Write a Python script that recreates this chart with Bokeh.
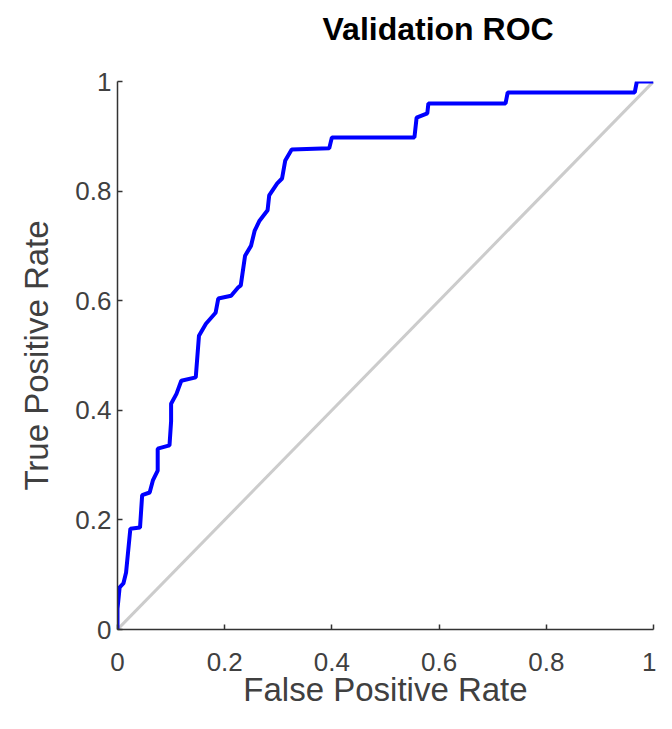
from bokeh.plotting import figure
from bokeh.models import Range1d, FixedTicker, Title
from bokeh.embed import file_html
from bokeh.resources import INLINE

# ROC curve vertices (False Positive Rate, True Positive Rate)
fpr = [0.0, 0.0, 0.004, 0.011, 0.016, 0.024, 0.042, 0.046, 0.060, 0.066, 0.075, 0.075,
       0.097, 0.100, 0.100, 0.110, 0.119, 0.146, 0.152, 0.165, 0.183, 0.188, 0.212,
       0.225, 0.230, 0.238, 0.249, 0.256, 0.265, 0.280, 0.283, 0.298, 0.307, 0.313,
       0.325, 0.395, 0.400, 0.554, 0.558, 0.578, 0.580, 0.724, 0.728, 0.965, 0.969, 1.0]
tpr = [0.0, 0.038, 0.077, 0.084, 0.104, 0.184, 0.186, 0.245, 0.250, 0.272, 0.290, 0.330,
       0.336, 0.380, 0.412, 0.430, 0.454, 0.460, 0.536, 0.558, 0.578, 0.604, 0.609,
       0.624, 0.628, 0.682, 0.700, 0.728, 0.746, 0.765, 0.792, 0.814, 0.823, 0.856,
       0.876, 0.878, 0.898, 0.898, 0.934, 0.942, 0.960, 0.960, 0.980, 0.980, 1.0, 1.0]

# chance line
diag_x = [0.0, 1.0]
diag_y = [0.0, 1.0]

ticks = [0, 0.2, 0.4, 0.6, 0.8, 1]
tick_labels = ["0", "0.2", "0.4", "0.6", "0.8", "1"]

title_text = "Validation ROC"
x_label = "False Positive Rate"
y_label = "True Positive Rate"

FONT = "Liberation Sans"
AX = "#333333"
TXT = "#404040"

p = figure(width=656, height=713, output_backend="svg", toolbar_location=None,
           x_range=Range1d(0, 1), y_range=Range1d(0, 1),
           min_border_left=117, min_border_right=3, min_border_top=81,
           min_border_bottom=84, title=title_text)
p.frame_width = 536
p.frame_height = 548

p.title.text_font = FONT
p.title.text_font_size = "32px"
p.title.text_font_style = "bold"
p.title.text_color = "#000000"
p.title.align = "left"
p.title.offset = 205
p.title.standoff = 0

# thin spacer panel between the title and the plot frame
spacer = Title(text=" ", text_font_size="1px", standoff=32)
p.add_layout(spacer, "above")

p.outline_line_color = None
p.xgrid.visible = False
p.ygrid.visible = False
p.background_fill_color = "white"
p.border_fill_color = "white"

p.line(diag_x, diag_y, line_color="#cccccc", line_width=3)
p.line(fpr, tpr, line_color="#0000ff", line_width=4)

for ax in (p.xaxis[0], p.yaxis[0]):
    ax.ticker = FixedTicker(ticks=ticks)
    ax.major_label_overrides = {t: l for t, l in zip(ticks, tick_labels)}
    ax.minor_tick_line_color = None
    ax.major_tick_in = 5
    ax.major_tick_out = 0
    ax.axis_line_color = AX
    ax.axis_line_width = 1.5
    ax.major_tick_line_color = AX
    ax.major_tick_line_width = 1.5
    ax.major_label_text_font = FONT
    ax.major_label_text_font_size = "26px"
    ax.major_label_text_color = TXT
    ax.axis_label_text_font = FONT
    ax.axis_label_text_font_size = "33px"
    ax.axis_label_text_font_style = "normal"
    ax.axis_label_text_color = TXT

p.xaxis.axis_label = x_label
p.yaxis.axis_label = y_label
p.xaxis.major_label_standoff = 23
p.yaxis.major_label_standoff = 6
p.xaxis.axis_label_standoff = -3
p.yaxis.axis_label_standoff = 17

open("out.html", "w").write(file_html(p, INLINE))
